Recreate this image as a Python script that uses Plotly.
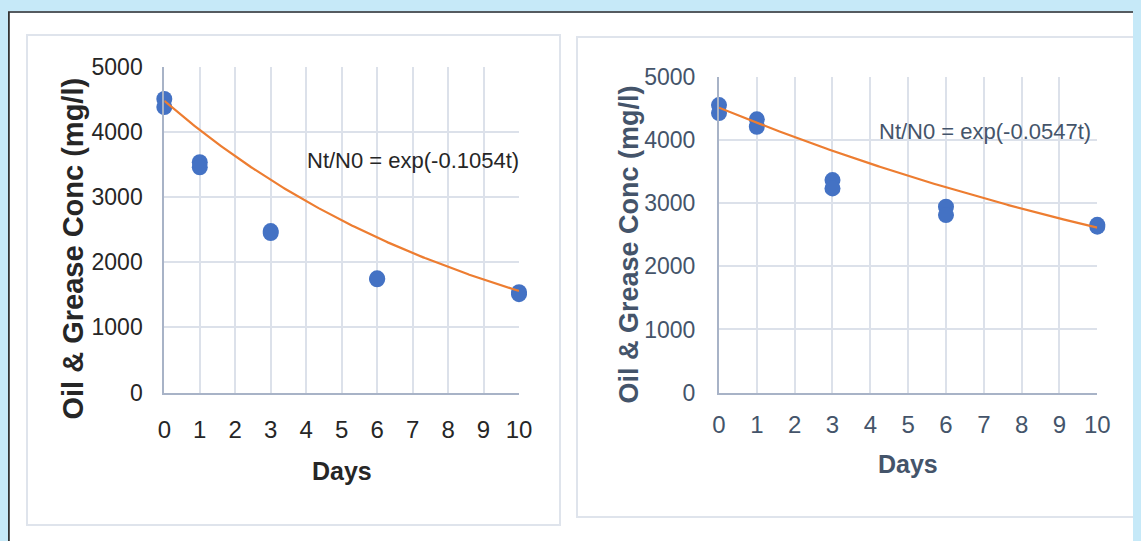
import numpy as np
import plotly.graph_objects as go

# page body adds an 8px margin; lay out in screen pixels and shift
OFF = 8
W, H = 1141 - OFF, 541 - OFF

# ---------------- data ----------------
days = [0, 0, 1, 1, 3, 3, 6, 6, 10, 10]
conc_a = [4508, 4385, 3538, 3460, 2480, 2450, 1754, 1740, 1540, 1510]
conc_b = [4560, 4433, 4333, 4216, 3370, 3238, 2946, 2814, 2660, 2630]
k_a, n0_a = 0.1054, 4480
k_b, n0_b = 0.0547, 4518
eq_a = "Nt/N0 = exp(-0.1054t)"
eq_b = "Nt/N0 = exp(-0.0547t)"
x_ticks = list(range(0, 11))
y_ticks = [0, 1000, 2000, 3000, 4000, 5000]
x_title = "Days"
y_title = "Oil & Grease Conc (mg/l)"

BLUE = "#4472c4"
ORANGE = "#ed7d31"
GRID = "#dce1ea"
AXLINE = "#a8b3c7"
DARK_A = "#262626"
DARK_B = "#44546a"
PAGE_BLUE = "#c6e9f8"
FONT = "Liberation Sans, Arial"


def px(x):
    return (x - OFF) / W


def py(y):
    return 1 - (y - OFF) / H


fig = go.Figure()

t = np.linspace(0, 10, 201)
for i, (conc, k, n0) in enumerate([(conc_a, k_a, n0_a), (conc_b, k_b, n0_b)]):
    xa = "x" if i == 0 else "x2"
    ya = "y" if i == 0 else "y2"
    fig.add_trace(go.Scatter(x=days, y=conc, mode="markers", xaxis=xa, yaxis=ya,
                             marker=dict(size=16, color=BLUE), cliponaxis=False,
                             showlegend=False))
    fig.add_trace(go.Scatter(x=t, y=n0 * np.exp(-k * t), mode="lines", xaxis=xa, yaxis=ya,
                             line=dict(color=ORANGE, width=2.2), cliponaxis=False,
                             showlegend=False))

panels = [
    dict(x0=164.3, x1=519.0, y0=67.0, y1=392.5, col=DARK_A, xs=15, ys=15),
    dict(x0=719.0, x1=1097.3, y0=77.3, y1=392.5, col=DARK_B, xs=10, ys=17),
]

for i, p in enumerate(panels):
    sfx = "" if i == 0 else "2"
    fig.layout["xaxis" + sfx] = dict(
        domain=[px(p["x0"]), px(p["x1"])], anchor="y" + sfx, range=[0, 10],
        tickmode="array", tickvals=x_ticks, showgrid=True, gridcolor=GRID, gridwidth=1.5,
        showline=True, linecolor=AXLINE, linewidth=2, zeroline=False, automargin=False,
        ticks="", ticklabelstandoff=p["xs"],
        tickfont=dict(family=FONT, size=24, color=p["col"]))
    fig.layout["yaxis" + sfx] = dict(
        domain=[py(p["y1"]), py(p["y0"])], anchor="x" + sfx, range=[0, 5000],
        tickmode="array", tickvals=y_ticks, showgrid=True, gridcolor=GRID, gridwidth=1.5,
        showline=True, linecolor=AXLINE, linewidth=2, zeroline=False, automargin=False,
        ticks="", ticklabelstandoff=p["ys"],
        tickfont=dict(family=FONT, size=23, color=p["col"]))

annotations = [
    dict(text=eq_a, x=px(521), y=py(160), xanchor="right", yanchor="middle",
         font=dict(family=FONT, size=22, color=DARK_A)),
    dict(text=eq_b, x=px(1093), y=py(131), xanchor="right", yanchor="middle",
         font=dict(family=FONT, size=22, color=DARK_B)),
    dict(text="<b>" + x_title + "</b>", x=px(342), y=py(471), xanchor="center", yanchor="middle",
         font=dict(family=FONT, size=25, color=DARK_A)),
    dict(text="<b>" + x_title + "</b>", x=px(908), y=py(464), xanchor="center", yanchor="middle",
         font=dict(family=FONT, size=25, color=DARK_B)),
    dict(text="<b>" + y_title + "</b>", x=px(73), y=py(248.5), xanchor="center", yanchor="middle",
         textangle=-90, font=dict(family=FONT, size=29, color=DARK_A)),
    dict(text="<b>" + y_title + "</b>", x=px(629), y=py(244.5), xanchor="center", yanchor="middle",
         textangle=-90, font=dict(family=FONT, size=27, color=DARK_B)),
]
for a in annotations:
    a.update(xref="paper", yref="paper", showarrow=False)

shapes = [
    # light-blue page strip (part inside the figure)
    dict(type="rect", x0=px(OFF), x1=px(1141), y0=py(OFF), y1=py(11.5), fillcolor=PAGE_BLUE, line=dict(width=0)),
    # dark frame lines
    dict(type="line", x0=px(OFF), x1=px(1141), y0=py(12), y1=py(12), line=dict(color="#555b60", width=2)),
    dict(type="line", x0=px(OFF + 0.8), x1=px(OFF + 0.8), y0=py(12), y1=py(541), line=dict(color="#333333", width=2)),
    # chart panels
    dict(type="rect", x0=px(27), x1=px(560), y0=py(525), y1=py(35), line=dict(color="#dfe4ec", width=2)),
    dict(type="rect", x0=px(577), x1=px(1134), y0=py(517), y1=py(37), line=dict(color="#dfe4ec", width=2)),
]
for s in shapes:
    s.update(xref="paper", yref="paper", layer="below")

fig.update_layout(width=W, height=H, margin=dict(l=0, r=0, t=0, b=0, pad=0),
                  autosize=False,
                  paper_bgcolor="white", plot_bgcolor="white",
                  annotations=annotations, shapes=shapes, showlegend=False)

fig.write_html("out.html", post_script="document.body.style.background='" + PAGE_BLUE + "';")
